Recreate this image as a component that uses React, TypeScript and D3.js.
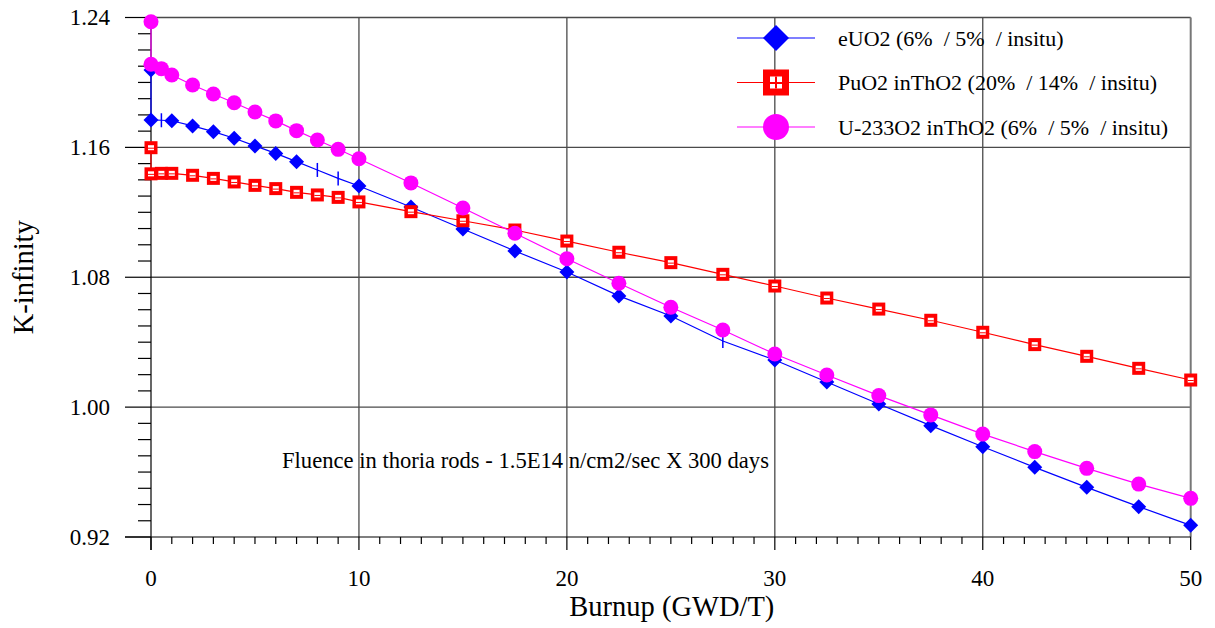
import React from "react";
import * as d3 from "d3";

// ---- data ----
const burnupSteps = [0, 0, 0.5, 1, 2, 3, 4, 5, 6, 7, 8, 9, 10, 12.5, 15, 17.5, 20, 22.5, 25, 27.5, 30, 32.5, 35, 37.5, 40, 42.5, 45, 47.5, 50];

const eUO2 = [1.2077, 1.1769, 1.1767, 1.1764, 1.1732, 1.1697, 1.1656, 1.1609, 1.1563, 1.1512, 1.1461, 1.1409, 1.1362, 1.1233, 1.1097, 1.0962, 1.0832, 1.0685, 1.0561, 1.0407, 1.0290, 1.0155, 1.0019, 0.9886, 0.9756, 0.9629, 0.9506, 0.9387, 0.9272];
// burnup points where the eUO2 marker shows as a vertical tick instead of a diamond
const eUO2TickMarkers = [0.5, 8, 9, 27.5];

const puO2 = [1.1598, 1.1437, 1.1440, 1.1440, 1.1428, 1.1409, 1.1387, 1.1366, 1.1346, 1.1323, 1.1307, 1.1292, 1.1264, 1.1204, 1.1148, 1.1091, 1.1023, 1.0954, 1.0890, 1.0818, 1.0746, 1.0672, 1.0604, 1.0535, 1.0461, 1.0385, 1.0313, 1.0239, 1.0167];

const u233O2 = [1.2374, 1.2112, 1.2085, 1.2046, 1.1984, 1.1929, 1.1875, 1.1818, 1.1763, 1.1703, 1.1645, 1.1588, 1.1530, 1.1381, 1.1227, 1.1071, 1.0914, 1.0763, 1.0615, 1.0475, 1.0327, 1.0198, 1.0071, 0.9952, 0.9834, 0.9726, 0.9623, 0.9526, 0.9438];

const xTicks = [0, 10, 20, 30, 40, 50];
const yTicks = [0.92, 1.0, 1.08, 1.16, 1.24];

const legendLabels = [
  "eUO2 (6%  / 5%  / insitu)",
  "PuO2 inThO2 (20%  / 14%  / insitu)",
  "U-233O2 inThO2 (6%  / 5%  / insitu)",
];
const annotation = "Fluence in thoria rods - 1.5E14 n/cm2/sec X 300 days";
const xTitle = "Burnup (GWD/T)";
const yTitle = "K-infinity";

const BLUE = "#0000ff";
const RED = "#ff0000";
const MAG = "#ff00ff";
const FONT = "'Liberation Serif', 'Times New Roman', serif";

const W = 1215, H = 628;
const x = d3.scaleLinear().domain([0, 50]).range([151, 1190.7]);
const y = d3.scaleLinear().domain([0.92, 1.24]).range([537, 17.5]);

const line = d3.line<[number, number]>().x((d) => x(d[0])).y((d) => y(d[1]));

function Diamond({ cx, cy, r, color }: { cx: number; cy: number; r: number; color: string }) {
  return <path d={`M${cx},${cy - r}L${cx + r},${cy}L${cx},${cy + r}L${cx - r},${cy}Z`} fill={color} />;
}

function SquareMark({ cx, cy, s, legend }: { cx: number; cy: number; s: number; legend?: boolean }) {
  const inner = legend ? 12 : 6;
  return (
    <g>
      <rect x={cx - s / 2} y={cy - s / 2} width={s} height={s} fill={RED} />
      <rect x={cx - inner / 2} y={cy - inner / 2 + (legend ? 0 : 0.5)} width={inner} height={legend ? inner : inner - 1} fill="#fff" />
      <line x1={cx - inner / 2} x2={cx + inner / 2} y1={cy + 0.5} y2={cy + 0.5} stroke={RED} strokeWidth={legend ? 2 : 1} />
      {legend && <line x1={cx} x2={cx} y1={cy - inner / 2} y2={cy + inner / 2} stroke={RED} strokeWidth={2} />}
    </g>
  );
}

export default function App() {
  const bluePts = burnupSteps.map((b, i) => [b, eUO2[i]] as [number, number]);
  const redPts = burnupSteps.map((b, i) => [b, puO2[i]] as [number, number]);
  const magPts = burnupSteps.map((b, i) => [b, u233O2[i]] as [number, number]);

  const xMinor = d3.range(0, 51, 1).filter((v) => v % 10 !== 0);
  const yMinor = d3.range(0, 33).map((i) => 0.92 + i * 0.01).filter((v, i) => i % 8 !== 0);
  const gridColor = "#4a4a4a";

  const blueTickSeen = new Set<number>();
  return (
    <svg width={W} height={H} style={{ position: "absolute", left: 0, top: 0, background: "#fff" }} fontFamily={FONT}>
      <rect x={0} y={0} width={W} height={H} fill="#fff" />
      {/* grid */}
      {[10, 20, 30, 40].map((v) => (
        <line key={"gx" + v} x1={x(v)} x2={x(v)} y1={y(1.24)} y2={y(0.92)} stroke={gridColor} strokeWidth={1.3} />
      ))}
      {[1.0, 1.08, 1.16].map((v) => (
        <line key={"gy" + v} x1={x(0)} x2={x(50)} y1={y(v)} y2={y(v)} stroke={gridColor} strokeWidth={1.3} />
      ))}
      {/* frame top/right */}
      <line x1={x(0)} x2={x(50)} y1={y(1.24)} y2={y(1.24)} stroke={gridColor} strokeWidth={1.3} />
      <line x1={x(50)} x2={x(50)} y1={y(1.24)} y2={y(0.92)} stroke="#777" strokeWidth={2} />
      {/* axes */}
      <line x1={x(0)} x2={x(0)} y1={y(1.24)} y2={y(0.92) + 13} stroke="#000" strokeWidth={1.2} />
      <line x1={x(0) - 26} x2={x(50)} y1={y(0.92)} y2={y(0.92)} stroke="#000" strokeWidth={1.2} />
      {yTicks.map((v) => (
        <g key={"yt" + v}>
          <line x1={x(0) - 26} x2={x(0)} y1={y(v)} y2={y(v)} stroke="#000" strokeWidth={1.2} />
          <text x={110} y={y(v) + 7.5} textAnchor="end" fontSize={23} fill="#000">{v.toFixed(2)}</text>
        </g>
      ))}
      {yMinor.map((v) => (
        <line key={"ym" + v} x1={x(0) - 13} x2={x(0)} y1={y(v)} y2={y(v)} stroke="#000" strokeWidth={1.2} />
      ))}
      {xTicks.map((v) => (
        <g key={"xt" + v}>
          <line x1={x(v)} x2={x(v)} y1={y(0.92)} y2={y(0.92) + 13} stroke="#000" strokeWidth={1.2} />
          <text x={x(v)} y={586} textAnchor="middle" fontSize={23} fill="#000">{v}</text>
        </g>
      ))}
      {xMinor.map((v) => (
        <line key={"xm" + v} x1={x(v)} x2={x(v)} y1={y(0.92)} y2={y(0.92) + 7} stroke="#000" strokeWidth={1.2} />
      ))}
      {/* titles */}
      <text x={x(25) + 1} y={616} textAnchor="middle" fontSize={28.5} fill="#000">{xTitle}</text>
      <text transform={`translate(33,${y(1.08)}) rotate(-90)`} textAnchor="middle" fontSize={28.5} fill="#000">{yTitle}</text>
      <text x={282} y={468} fontSize={22.6} fill="#000" style={{ whiteSpace: "pre" }}>{annotation}</text>

      {/* series: blue */}
      <path d={line(bluePts) || ""} fill="none" stroke={BLUE} strokeWidth={1.2} />
      {bluePts.map((p, i) => {
        const isTick = eUO2TickMarkers.includes(p[0]) && !blueTickSeen.has(p[0]);
        if (isTick) {
          blueTickSeen.add(p[0]);
          return <line key={"b" + i} x1={x(p[0])} x2={x(p[0])} y1={y(p[1]) - 7} y2={y(p[1]) + 7} stroke={BLUE} strokeWidth={1.5} />;
        }
        return <Diamond key={"b" + i} cx={x(p[0])} cy={y(p[1])} r={7.5} color={BLUE} />;
      })}
      {/* red */}
      <path d={line(redPts) || ""} fill="none" stroke={RED} strokeWidth={1.2} />
      {redPts.map((p, i) => (
        <SquareMark key={"r" + i} cx={x(p[0])} cy={y(p[1])} s={13} />
      ))}
      {/* magenta */}
      <path d={line(magPts) || ""} fill="none" stroke={MAG} strokeWidth={1.2} />
      {magPts.map((p, i) => (
        <circle key={"m" + i} cx={x(p[0])} cy={y(p[1])} r={7.5} fill={MAG} />
      ))}

      {/* legend */}
      {legendLabels.map((lab, i) => {
        const cy = 38 + i * 44.5;
        const color = [BLUE, RED, MAG][i];
        return (
          <g key={"lg" + i}>
            <line x1={737} x2={815} y1={cy} y2={cy} stroke={color} strokeWidth={1.2} />
            {i === 0 && <Diamond cx={776} cy={cy} r={13} color={BLUE} />}
            {i === 1 && <SquareMark cx={776} cy={cy} s={26} legend />}
            {i === 2 && <circle cx={776} cy={cy} r={13} fill={MAG} />}
            <text x={838} y={cy + 7.5} fontSize={22} fill="#000" style={{ whiteSpace: "pre" }}>{lab}</text>
          </g>
        );
      })}
    </svg>
  );
}
